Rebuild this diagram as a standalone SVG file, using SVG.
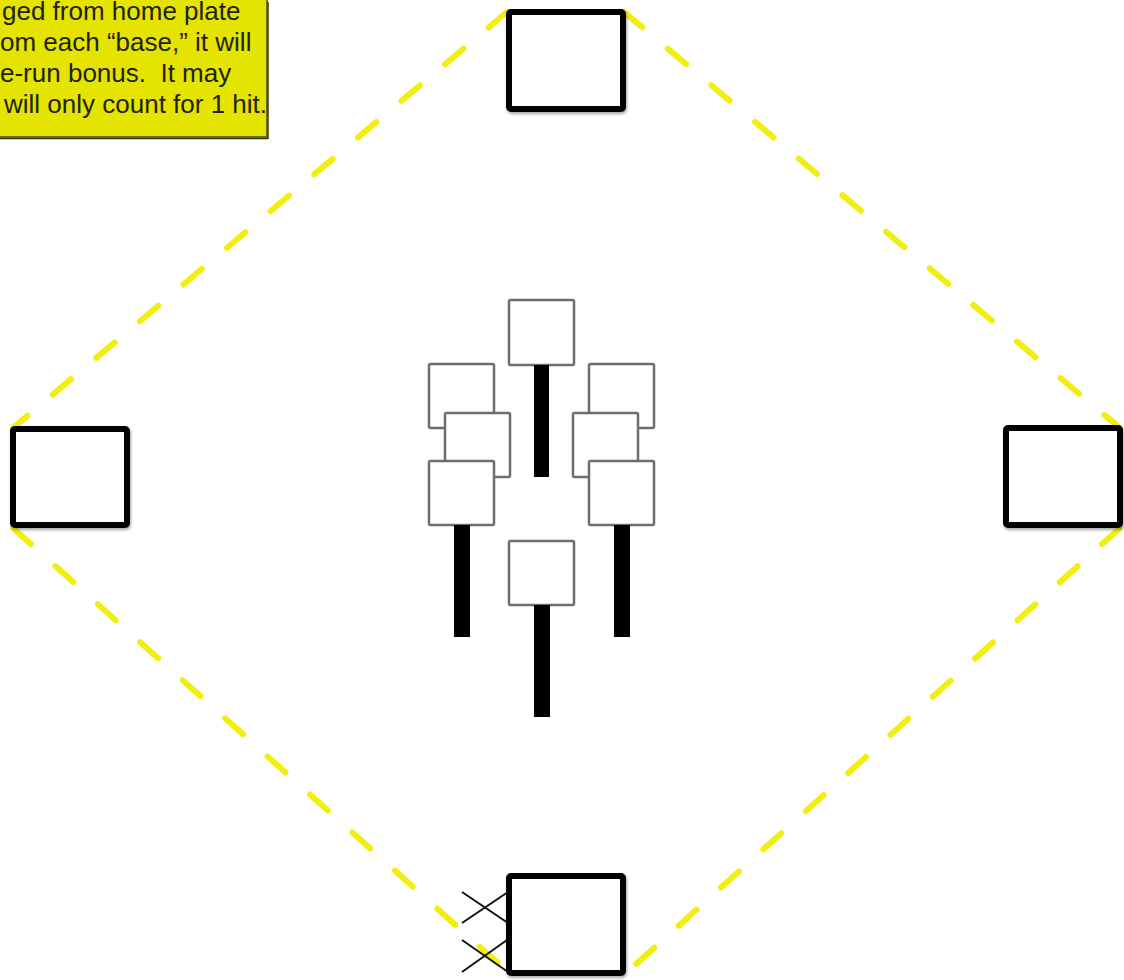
<svg xmlns="http://www.w3.org/2000/svg" width="1124" height="980" viewBox="0 0 1124 980">
  <defs>
    <style>
      .base { fill: #ffffff; stroke: #000000; stroke-width: 6; }
      .player { fill: #ffffff; stroke: #6e6e6e; stroke-width: 2.5; }
      .bat { fill: #000000; }
      .path { fill: none; stroke: #f2ee10; stroke-width: 6; stroke-linecap: round; stroke-dasharray: 24 33; }
      .mark { stroke: #111111; stroke-width: 2; }
      .note { font-family: "Liberation Sans", Arial, sans-serif; font-size: 26px; fill: #22220a; }
    </style>
    <filter id="sh" x="-10%" y="-10%" width="130%" height="130%">
      <feGaussianBlur in="SourceAlpha" stdDeviation="1.5"/>
      <feOffset dx="1" dy="2" result="o"/>
      <feComponentTransfer><feFuncA type="linear" slope="0.35"/></feComponentTransfer>
      <feMerge><feMergeNode/><feMergeNode in="SourceGraphic"/></feMerge>
    </filter>
  </defs>
  <rect width="1124" height="980" fill="#ffffff"/>

  <g id="connectors">
    <line class="path" x1="507" y1="12" x2="13" y2="428"/>
    <line class="path" x1="624" y1="12" x2="1120" y2="428"/>
    <line class="path" x1="13" y1="528" x2="509" y2="973"/>
    <line class="path" x1="1120" y1="528" x2="624" y2="975"/>
  </g>

  <g id="note">
    <rect x="-6" y="-6" width="273" height="143" fill="#e4e400" stroke="#4a4a00" stroke-width="1.5"/>
    <line x1="268" y1="2" x2="268" y2="139" stroke="#3a3a00" stroke-width="1.5"/>
    <line x1="0" y1="138.5" x2="268" y2="138.5" stroke="#3a3a00" stroke-width="1.5"/>
    <text class="note" x="2" y="20">ged from home plate</text>
    <text class="note" x="0" y="51">om each “base,” it will</text>
    <text class="note" x="0" y="82" xml:space="preserve">e-run bonus.  It may</text>
    <text class="note" x="4" y="113">will only count for 1 hit.</text>
  </g>

  <g id="base-second" filter="url(#sh)"><rect class="base" x="509" y="12" width="114" height="97" rx="2"/></g>
  <g id="base-third" filter="url(#sh)"><rect class="base" x="13" y="429" width="114" height="96" rx="2"/></g>
  <g id="base-first" filter="url(#sh)"><rect class="base" x="1006" y="428" width="114" height="97" rx="2"/></g>
  <g id="base-home" filter="url(#sh)"><rect class="base" x="509" y="876" width="114" height="97" rx="2"/></g>

  <g id="marks">
    <line class="mark" x1="462" y1="892" x2="508" y2="923"/>
    <line class="mark" x1="462" y1="923" x2="508" y2="892"/>
    <line class="mark" x1="462" y1="940" x2="508" y2="972"/>
    <line class="mark" x1="462" y1="972" x2="507" y2="940"/>
  </g>

  <g id="player-top">
    <rect class="player" x="509" y="300" width="65" height="65" rx="1.5"/>
    <rect class="bat" x="534" y="365" width="15" height="112"/>
  </g>
  <g id="player-left-back"><rect class="player" x="429" y="364" width="65" height="64" rx="1.5"/></g>
  <g id="player-right-back"><rect class="player" x="589" y="364" width="65" height="64" rx="1.5"/></g>
  <g id="player-left-mid"><rect class="player" x="445" y="413" width="65" height="64" rx="1.5"/></g>
  <g id="player-right-mid"><rect class="player" x="573" y="413" width="65" height="64" rx="1.5"/></g>
  <g id="player-left-front">
    <rect class="player" x="429" y="461" width="65" height="64" rx="1.5"/>
    <rect class="bat" x="454" y="525" width="16" height="112"/>
  </g>
  <g id="player-right-front">
    <rect class="player" x="589" y="461" width="65" height="64" rx="1.5"/>
    <rect class="bat" x="614" y="525" width="16" height="112"/>
  </g>
  <g id="player-bottom">
    <rect class="player" x="509" y="541" width="65" height="64" rx="1.5"/>
    <rect class="bat" x="534" y="605" width="16" height="112"/>
  </g>
</svg>
